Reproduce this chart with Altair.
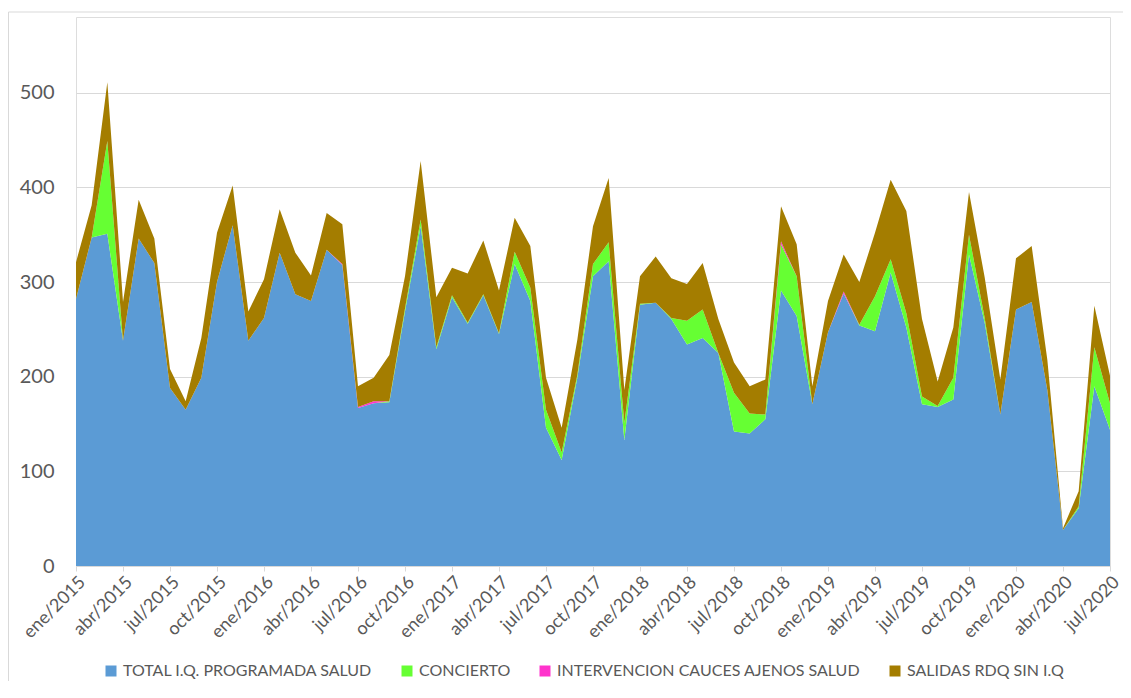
import altair as alt
import pandas as pd

meses = ['ene', 'feb', 'mar', 'abr', 'may', 'jun', 'jul', 'ago', 'sep', 'oct', 'nov', 'dic']
etiquetas = [f"{meses[k % 12]}/{2015 + k // 12}" for k in range(67)]

series = ['TOTAL I.Q. PROGRAMADA SALUD', 'CONCIERTO',
          'INTERVENCION CAUCES AJENOS SALUD', 'SALIDAS RDQ SIN I.Q']
colores = ['#5B9BD5', '#66FF33', '#FF33CC', '#A47D00']

total = [282, 347, 351, 238, 346, 320, 188, 165, 199, 300,
         360, 238, 262, 331, 287, 280, 334, 318, 167, 172,
         173, 269, 359, 229, 284, 256, 286, 245, 319, 280,
         146, 112, 199, 306, 322, 133, 276, 278, 261, 234,
         241, 225, 142, 140, 155, 291, 264, 171, 247, 288,
         254, 248, 310, 252, 171, 168, 176, 329, 257, 160,
         271, 279, 186, 38, 61, 190, 144]
concierto = [0, 0, 98, 0, 0, 0, 0, 0, 0, 0,
             0, 0, 0, 0, 0, 0, 0, 0, 0, 0,
             1, 3, 7, 2, 2, 1, 1, 1, 13, 14,
             19, 8, 3, 13, 20, 18, 1, 0, 1, 25,
             30, 0, 41, 21, 5, 49, 42, 0, 0, 0,
             1, 37, 14, 15, 8, 1, 23, 21, 5, 0,
             0, 0, 0, 0, 2, 41, 28]
intervencion = [0, 0, 0, 0, 0, 0, 0, 0, 0, 0,
                0, 0, 0, 0, 0, 0, 0, 1, 1, 2,
                0, 0, 0, 0, 0, 0, 0, 0, 0, 0,
                0, 0, 0, 0, 0, 0, 0, 0, 0, 0,
                0, 0, 0, 0, 0, 3, 0, 0, 0, 2,
                0, 0, 0, 0, 0, 0, 0, 0, 0, 0,
                0, 0, 0, 0, 0, 0, 0]
salidas = [39, 34, 62, 41, 41, 26, 20, 9, 42, 52,
           42, 31, 41, 46, 44, 27, 39, 42, 22, 25,
           49, 34, 62, 53, 29, 52, 57, 45, 36, 44,
           34, 26, 37, 40, 68, 35, 29, 49, 42, 39,
           49, 36, 32, 29, 37, 37, 34, 19, 33, 39,
           45, 67, 84, 108, 82, 26, 53, 45, 43, 37,
           54, 59, 32, 2, 16, 44, 29]

rows = []
for orden, (nombre, vals) in enumerate(zip(series, [total, concierto, intervencion, salidas])):
    for i, v in enumerate(vals):
        rows.append({'i': i, 'serie': nombre, 'valor': v, 'orden': orden})
df = pd.DataFrame(rows)

label_expr = "[" + ",".join(f"'{e}'" for e in etiquetas) + "][datum.value]"

area = alt.Chart(df).mark_area(interpolate='linear', opacity=1).encode(
    x=alt.X('i:Q',
            scale=alt.Scale(domain=[0, 66], nice=False, zero=False),
            axis=alt.Axis(values=list(range(0, 67, 3)), labelExpr=label_expr,
                          labelAngle=315, labelFontSize=18, labelColor='#595959',
                          labelOverlap=False, labelBound=False, labelFlush=False,
                          ticks=True, tickColor='#d9d9d9', tickSize=5,
                          domainColor='#d9d9d9', grid=False, title=None,
                          labelPadding=2, labelFont='Lato')),
    y=alt.Y('valor:Q', stack='zero',
            scale=alt.Scale(domain=[0, 580], nice=False),
            axis=alt.Axis(values=[0, 100, 200, 300, 400, 500], grid=True,
                          gridColor='#d9d9d9', domain=False, ticks=False,
                          labelFontSize=20, labelColor='#595959', labelPadding=22,
                          title=None, labelFont='Lato')),
    color=alt.Color('serie:N',
                    scale=alt.Scale(domain=series, range=colores),
                    legend=alt.Legend(orient='none', legendX=27, legendY=646,
                                      direction='horizontal', title=None,
                                      symbolType='square', symbolSize=121,
                                      symbolStrokeWidth=0, symbolOpacity=1,
                                      labelFontSize=16, labelColor='#595959',
                                      labelFont='Lato', columnPadding=26,
                                      labelOffset=4, labelLimit=0)),
    order=alt.Order('orden:Q', sort='ascending'),
)

borde_sup = alt.Chart(pd.DataFrame({'b': [0]})).mark_rule(color='#d9d9d9', strokeWidth=1).encode(
    x=alt.value(-67.5), x2=alt.value(1047), y=alt.value(-5))
borde_izq = alt.Chart(pd.DataFrame({'b': [0]})).mark_rule(color='#d9d9d9', strokeWidth=1).encode(
    x=alt.value(-67.5), y=alt.value(-5), y2=alt.value(700))

chart = alt.layer(area, borde_sup, borde_izq).properties(
    width=1034, height=549,
    padding={'left': 68, 'top': 9, 'right': 13, 'bottom': 115},
    autosize='none',
).configure_view(stroke=None).configure(background='white')

chart.save("out.html", embed_options={"renderer": "svg", "actions": False})
